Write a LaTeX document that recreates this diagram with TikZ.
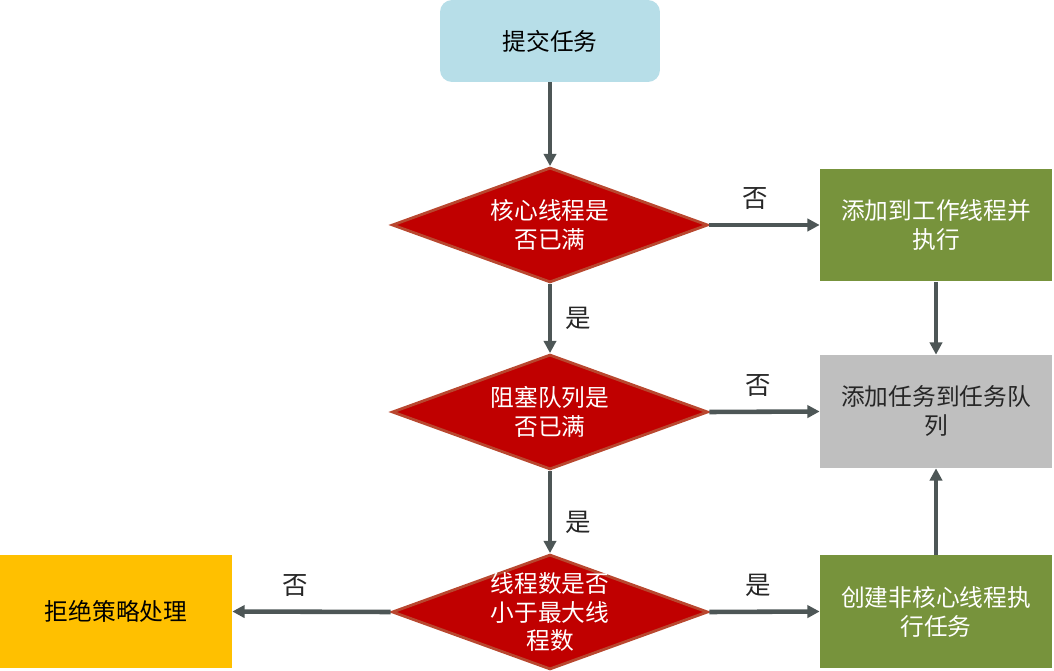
\documentclass[tikz,border=0pt]{standalone}
\usepackage{fontspec}
\newfontfamily\cjk{Noto Sans CJK SC}
\usepackage{xcolor}
\usepackage{tikz}
\usetikzlibrary{positioning}
\usetikzlibrary{shapes.geometric}
\usetikzlibrary{arrows.meta}
\pgfdeclarelayer{nodelayer}
\pgfdeclarelayer{edgelayer}
\pgfsetlayers{nodelayer,edgelayer,main}
\definecolor{startblue}{HTML}{B7DEE8}
\definecolor{decred}{HTML}{C00000}
\definecolor{decborder}{HTML}{B9472F}
\definecolor{okgreen}{HTML}{77933C}
\definecolor{queuegray}{HTML}{BFBFBF}
\definecolor{rejectorange}{HTML}{FFC000}
\definecolor{arrowgray}{HTML}{4D5656}
\tikzset{
    box/.style = {rectangle, minimum width=4.64cm, minimum height=2.26cm, inner sep=0pt, align=center},
    decision/.style = {diamond, fill=decred, draw=decborder, line width=1.6pt, minimum width=6.32cm, minimum height=2.3cm, inner sep=0pt},
    flow/.style = {-{Triangle[length=7pt,width=7pt]}, draw=arrowgray, line width=2.6pt},
    answer/.style = {text=black!85, font=\cjk\fontsize{14.5pt}{16.5pt}\selectfont}
}

\begin{document}
\begin{tikzpicture}[x=0.02cm, y=-0.02cm, font=\cjk\fontsize{13.5pt}{16.5pt}\selectfont]
  \useasboundingbox (0, 0) rectangle (1054, 671);
  \begin{pgfonlayer}{nodelayer}
    \node [box, fill=startblue, rounded corners=0.24cm, minimum width=4.4cm, minimum height=1.64cm] (0) at (550, 41) {提交任务};
    \node [decision, label={[text=white, align=center]center:核心线程是\\否已满}] (1) at (550, 225) {};
    \node [box, fill=okgreen, text=white] (2) at (936, 225) {添加到工作线程并\\执行};
    \node [decision, label={[text=white, align=center]center:阻塞队列是\\否已满}] (3) at (550, 412) {};
    \node [box, fill=queuegray, text=black!85] (4) at (936, 411.5) {添加任务到任务队\\列};
    \node [decision, label={[text=white, align=center]center:线程数是否\\小于最大线\\程数}] (5) at (550, 612) {};
    \node [box, fill=okgreen, text=white] (6) at (936, 611.5) {创建非核心线程执\\行任务};
    \node [box, fill=rejectorange, text=black] (7) at (116, 611.5) {拒绝策略处理};
  \end{pgfonlayer}
  \begin{pgfonlayer}{edgelayer}
    \draw [flow] (0.south) to (1.north);
    \draw [flow] (1.east) to node [answer, above=4pt, pos=0.42] {否} (2.west);
    \draw [flow] (1.south) to node [answer, right=4pt] {是} (3.north);
    \draw [flow] (2.south) to (4.north);
    \draw [flow] (3.east) to node [answer, above=4pt, pos=0.44] {否} (4.west);
    \draw [flow] (3.south) to node [answer, right=4pt, pos=0.62] {是} (5.north);
    \draw [flow] (5.east) to node [answer, above=4pt, pos=0.44] {是} (6.west);
    \draw [flow] (6.north) to (4.south);
    \draw [flow] (5.west) to node [answer, above=4pt, pos=0.6] {否} (7.east);
  \end{pgfonlayer}
\end{tikzpicture}
\end{document}
